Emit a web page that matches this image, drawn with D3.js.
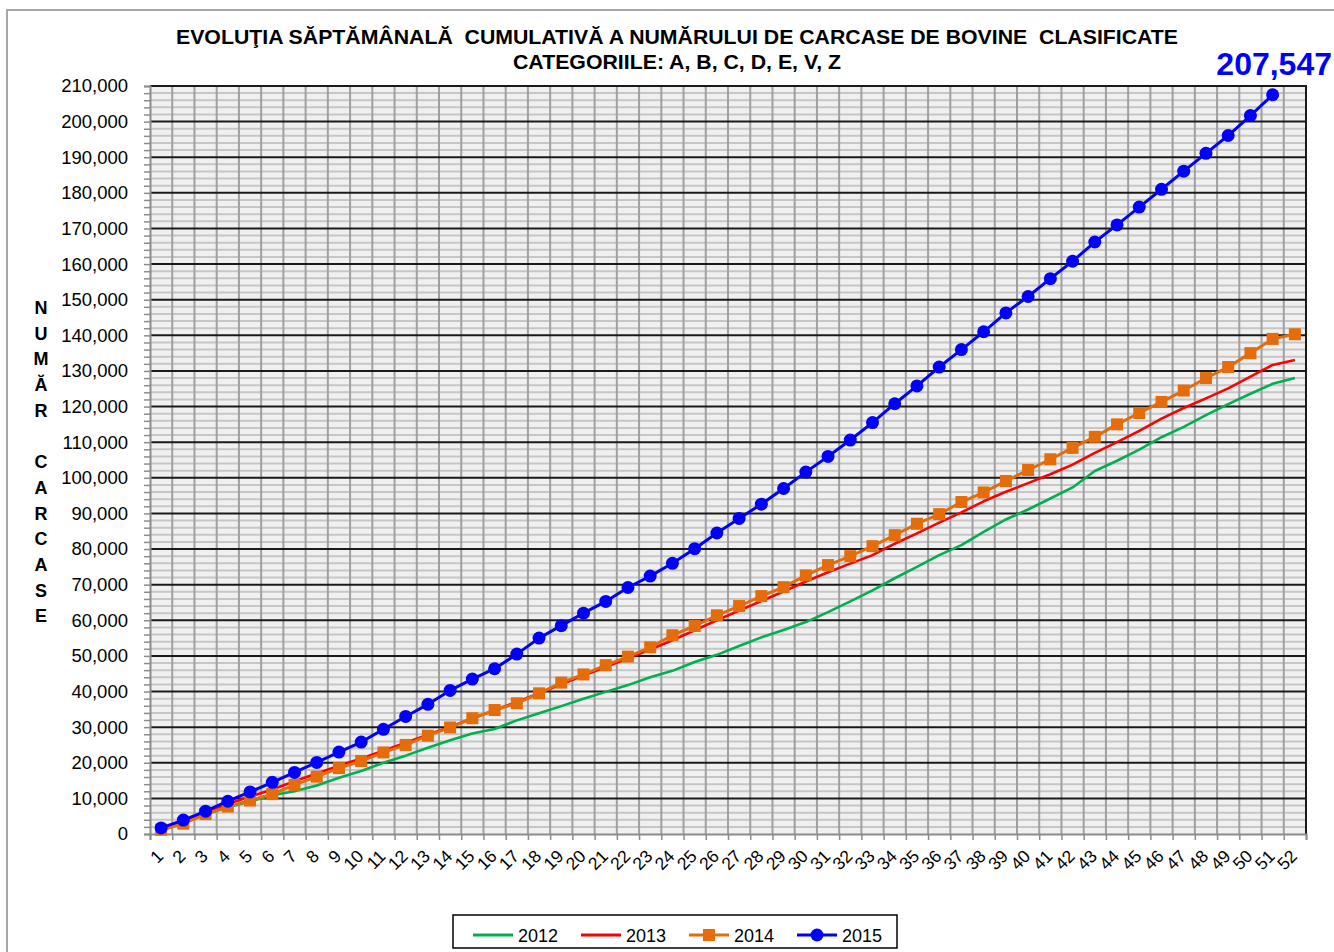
<!DOCTYPE html>
<html>
<head>
<meta charset="utf-8">
<script src="https://cdn.jsdelivr.net/npm/d3@7"></script>
<style>
	body { margin: 0; background: #ffffff; }
</style>
</head>
<body>
<div id="my_dataviz"></div>
<script>
// date
var weeks = ["1","2","3","4","5","6","7","8","9","10","11","12","13","14","15","16","17","18","19","20",
	"21","22","23","24","25","26","27","28","29","30","31","32","33","34","35","36","37","38","39","40",
	"41","42","43","44","45","46","47","48","49","50","51","52"];

var y2012 = [900,3100,5500,7500,9100,10900,12000,13600,15800,17700,20000,22000,24200,26300,28200,29500,
	31900,33900,35900,38000,39900,41800,44000,45800,48300,50300,52800,55200,57300,59500,62300,65300,
	68400,71800,75000,78300,81100,84800,88300,91100,94200,97300,101900,104800,107900,111400,114300,
	117600,120700,123600,126400,128000];

var y2013 = [1300,3400,5900,8400,10500,12500,14800,17000,19200,21200,23400,25600,27900,30100,32400,34700,
	37100,39500,42000,44500,46900,49300,51800,54400,57200,60000,62700,65400,68100,70900,73500,75900,
	78300,81500,84400,87400,90300,93400,96100,98500,101000,103700,107000,110000,113200,116600,119600,
	122300,125100,128400,131700,133100];

var y2014 = [1200,2900,5600,7700,9400,11200,13800,16100,18500,20500,22900,25000,27600,29900,32500,34800,
	36700,39500,42500,44800,47400,49800,52400,55800,58400,61400,64000,66800,69300,72600,75500,78000,
	80800,83900,87100,89800,93200,95900,99100,102200,105200,108400,111500,115000,118200,121300,124500,
	128000,131100,135000,139000,140300];

var y2015 = [1700,3900,6400,9200,11800,14500,17300,20100,23000,25800,29400,33000,36400,40300,43500,46400,
	50500,55000,58500,62000,65300,69200,72400,76000,80100,84500,88600,92600,97000,101600,106000,110600,
	115500,120800,125800,131100,136000,141000,146300,150900,155900,160800,166200,171000,176000,181000,
	186100,191100,196100,201700,207547];

var seriesNames = ["2012", "2013", "2014", "2015"];
var seriesColors = ["#00b050", "#ff0000", "#e46c0a", "#0000ff"];
var seriesMarkers = ["none", "none", "square", "circle"];

var titleLines = ["EVOLUŢIA SĂPTĂMÂNALĂ  CUMULATIVĂ A NUMĂRULUI DE CARCASE DE BOVINE  CLASIFICATE",
	"CATEGORIILE: A, B, C, D, E, V, Z"];
var yTitle = "NUMĂR CARCASE";
var yMax = 210000;

var font = "Arial, 'Liberation Sans', sans-serif";

function createChart() {

	var W = 1334, H = 952;
	var plot = { left: 150, right: 1306, top: 86, bottom: 834 };

	var svg = d3.select("#my_dataviz")
		.append("svg")
		.attr("width", W)
		.attr("height", H)
		.style("display", "block")
		.style("font-family", font);

	// rama exterioara
	svg.append("rect")
		.attr("x", 7).attr("y", 10)
		.attr("width", W + 50).attr("height", H + 50)
		.attr("fill", "#ffffff")
		.attr("stroke", "#a6a6a6")
		.attr("stroke-width", 2);

	var x = d3.scaleBand()
		.domain(weeks)
		.range([plot.left, plot.right])
		.padding(0);

	var xb = d3.scaleLinear()
		.domain([0, weeks.length])
		.range([plot.left, plot.right]);

	var y = d3.scaleLinear()
		.domain([0, yMax])
		.range([plot.bottom, plot.top]);

	// fundal zona grafic
	svg.append("rect")
		.attr("x", plot.left).attr("y", plot.top)
		.attr("width", plot.right - plot.left)
		.attr("height", plot.bottom - plot.top)
		.attr("fill", "#f0f0f0");

	// linii grid minore orizontale
	var minor = d3.range(0, yMax + 1, 2000);
	var major = d3.range(0, yMax + 1, 10000);

	svg.append("g")
		.selectAll("line")
		.data(minor.filter(function(d) { return d % 10000 != 0; }))
		.enter()
		.append("line")
		.attr("x1", plot.left).attr("x2", plot.right)
		.attr("y1", function(d) { return y(d) }).attr("y2", function(d) { return y(d) })
		.attr("stroke", "#c6c6c6")
		.attr("stroke-width", 2);

	// linii verticale
	svg.append("g")
		.selectAll("line")
		.data(d3.range(1, weeks.length))
		.enter()
		.append("line")
		.attr("x1", function(d) { return xb(d) }).attr("x2", function(d) { return xb(d) })
		.attr("y1", plot.top).attr("y2", plot.bottom)
		.attr("stroke", "#a0a0a0")
		.attr("stroke-width", 2);

	// linii grid majore
	svg.append("g")
		.selectAll("line")
		.data(major.filter(function(d) { return d > 0; }))
		.enter()
		.append("line")
		.attr("x1", plot.left).attr("x2", plot.right)
		.attr("y1", function(d) { return y(d) }).attr("y2", function(d) { return y(d) })
		.attr("stroke", "#1a1a1a")
		.attr("stroke-width", 2);

	// margine dreapta
	svg.append("line")
		.attr("x1", plot.right).attr("x2", plot.right)
		.attr("y1", plot.top - 1).attr("y2", plot.bottom)
		.attr("stroke", "#1a1a1a")
		.attr("stroke-width", 2);

	// axa Y: gradatii minore
	svg.append("g")
		.attr("transform", "translate(" + plot.left + ",0)")
		.call(d3.axisLeft(y).tickValues(minor).tickSize(6).tickFormat(""))
		.call(function(g) {
			g.select(".domain").attr("stroke", "#8c8c8c").attr("stroke-width", 2);
			g.selectAll(".tick line").attr("stroke", "#8c8c8c").attr("stroke-width", 1.5);
		});

	// axa Y: etichete
	svg.append("g")
		.attr("transform", "translate(" + plot.left + ",0)")
		.call(d3.axisLeft(y).tickValues(major).tickSize(0).tickPadding(22).tickFormat(d3.format(",")))
		.call(function(g) {
			g.select(".domain").remove();
			g.selectAll("text")
				.style("font-family", font)
				.style("font-size", "18.5px")
				.attr("fill", "#000");
		});

	// axa X: gradatii intre categorii
	svg.append("g")
		.attr("transform", "translate(0," + plot.bottom + ")")
		.call(d3.axisBottom(xb).tickValues(d3.range(0, weeks.length + 1)).tickSize(6).tickFormat(""))
		.call(function(g) {
			g.select(".domain").attr("stroke", "#8c8c8c").attr("stroke-width", 2);
			g.selectAll(".tick line").attr("stroke", "#8c8c8c").attr("stroke-width", 1.5);
		});

	// axa X: etichete rotite
	svg.append("g")
		.attr("transform", "translate(0," + plot.bottom + ")")
		.call(d3.axisBottom(x).tickSize(0))
		.call(function(g) {
			g.select(".domain").remove();
			g.selectAll("text")
				.attr("x", 0).attr("y", 0).attr("dy", "0.35em")
				.attr("transform", "translate(-1,19)rotate(-45)")
				.style("text-anchor", "end")
				.style("font-family", font)
				.style("font-size", "17.5px")
				.attr("fill", "#000");
		});

	// seriile
	var allSeries = [y2012, y2013, y2014, y2015];
	var cx = function(d, i) { return x(weeks[i]) + x.bandwidth() / 2; };

	allSeries.forEach(function(vals, k) {
		var line = d3.line()
			.x(function(d, i) { return cx(d, i) })
			.y(function(d) { return y(d) });

		svg.append("path")
			.datum(vals)
			.attr("fill", "none")
			.attr("stroke", seriesColors[k])
			.attr("stroke-width", k >= 2 ? 3 : 2.6)
			.attr("stroke-linejoin", "round")
			.attr("d", line);

		if (seriesMarkers[k] == "square") {
			svg.append("g")
				.selectAll("rect")
				.data(vals)
				.enter()
				.append("rect")
				.attr("x", function(d, i) { return cx(d, i) - 6 })
				.attr("y", function(d) { return y(d) - 6 })
				.attr("width", 12).attr("height", 12)
				.attr("fill", seriesColors[k]);
		}
		if (seriesMarkers[k] == "circle") {
			svg.append("g")
				.selectAll("circle")
				.data(vals)
				.enter()
				.append("circle")
				.attr("cx", function(d, i) { return cx(d, i) })
				.attr("cy", function(d) { return y(d) })
				.attr("r", 6.5)
				.attr("fill", seriesColors[k]);
		}
	});

	// valoarea finala 2015
	svg.append("text")
		.attr("x", 1332)
		.attr("y", 75)
		.attr("text-anchor", "end")
		.text(d3.format(",")(y2015[y2015.length - 1]))
		.style("font-family", font)
		.style("font-size", "32px")
		.style("font-weight", "bold")
		.attr("fill", "#0000ff");

	// titlu
	var titleWidths = [1002, 328];
	svg.append("g")
		.selectAll("text")
		.data(titleLines)
		.enter()
		.append("text")
		.attr("x", 677)
		.attr("y", function(d, i) { return 44 + i * 25 })
		.attr("text-anchor", "middle")
		.attr("xml:space", "preserve")
		.attr("textLength", function(d, i) { return titleWidths[i] })
		.attr("lengthAdjust", "spacingAndGlyphs")
		.text(function(d) { return d })
		.style("white-space", "pre")
		.style("font-family", font)
		.style("font-size", "20px")
		.style("font-weight", "bold");

	// titlu axa Y, litere pe verticala
	var letters = yTitle.split("");
	svg.append("g")
		.selectAll("text")
		.data(letters)
		.enter()
		.append("text")
		.attr("x", 41)
		.attr("y", function(d, i) { return 314 + i * 25.7 })
		.attr("text-anchor", "middle")
		.text(function(d) { return d })
		.style("font-family", font)
		.style("font-size", "18px")
		.style("font-weight", "bold");

	// legenda
	var leg = svg.append("g");
	leg.append("rect")
		.attr("x", 453).attr("y", 915)
		.attr("width", 444).attr("height", 33)
		.attr("fill", "#ffffff")
		.attr("stroke", "#000")
		.attr("stroke-width", 1.5);

	var legX = [473, 581, 689, 797];
	seriesNames.forEach(function(name, k) {
		var lx = legX[k], ly = 935;
		leg.append("line")
			.attr("x1", lx).attr("x2", lx + 40)
			.attr("y1", ly).attr("y2", ly)
			.attr("stroke", seriesColors[k])
			.attr("stroke-width", 3);
		if (seriesMarkers[k] == "square") {
			leg.append("rect")
				.attr("x", lx + 14).attr("y", ly - 6)
				.attr("width", 12).attr("height", 12)
				.attr("fill", seriesColors[k]);
		}
		if (seriesMarkers[k] == "circle") {
			leg.append("circle")
				.attr("cx", lx + 20).attr("cy", ly)
				.attr("r", 6.5)
				.attr("fill", seriesColors[k]);
		}
		leg.append("text")
			.attr("x", lx + 45)
			.attr("y", ly + 7)
			.text(name)
			.style("font-family", font)
			.style("font-size", "18px");
	});
}

createChart();
</script>
</body>
</html>
